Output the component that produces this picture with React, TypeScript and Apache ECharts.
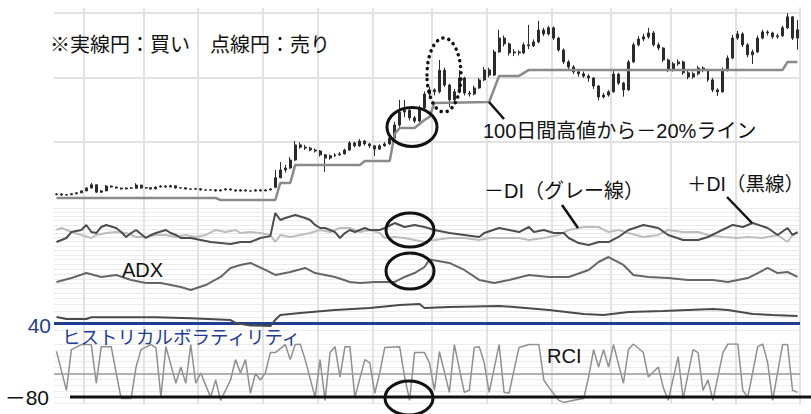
import { useEffect, useRef } from "react";
import * as echarts from "echarts";

// 株価 (open, close, low, high) — 円
const candles: number[][] = [
  [180, 187, 165, 200], [187, 171, 160, 195], [171, 175, 160, 185], [175, 190, 170, 200], [190, 205, 185, 215],
  [205, 235, 200, 245], [235, 280, 230, 290], [280, 330, 275, 360], [330, 215, 205, 330], [215, 235, 205, 250],
  [235, 310, 230, 325], [310, 295, 285, 320], [295, 280, 270, 300], [280, 265, 255, 285], [265, 280, 260, 290],
  [280, 275, 265, 295], [275, 325, 270, 355], [325, 280, 270, 330], [280, 285, 270, 295], [285, 265, 255, 290],
  [265, 295, 260, 305], [295, 310, 290, 325], [310, 295, 285, 320], [295, 315, 290, 330], [315, 280, 270, 320],
  [280, 285, 270, 295], [285, 265, 255, 290], [265, 262, 250, 275], [262, 268, 255, 280], [268, 250, 240, 275],
  [250, 248, 235, 260], [248, 252, 240, 262], [252, 235, 225, 258], [235, 250, 228, 260], [250, 265, 245, 278],
  [265, 250, 240, 270], [250, 233, 225, 255], [233, 250, 228, 262], [250, 235, 225, 255], [235, 232, 222, 245],
  [232, 250, 228, 262], [250, 235, 225, 258], [235, 250, 230, 262], [250, 265, 245, 275], [290, 440, 280, 560],
  [440, 560, 430, 684], [560, 590, 520, 640], [590, 715, 580, 760], [715, 950, 700, 1011], [950, 915, 890, 990],
  [915, 900, 870, 950], [900, 870, 850, 920], [870, 855, 830, 895], [855, 795, 770, 870], [795, 745, 530, 810],
  [745, 780, 720, 800], [780, 795, 760, 820], [795, 810, 780, 840], [810, 870, 800, 890], [870, 980, 860, 1010],
  [980, 935, 910, 1000], [935, 1010, 920, 1040], [1010, 965, 940, 1025], [965, 935, 900, 980], [935, 885, 780, 950],
  [885, 935, 870, 960], [935, 965, 920, 990], [965, 1055, 950, 1090], [1055, 1260, 1040, 1310], [1260, 1460, 1230, 1650],
  [1460, 1490, 1380, 1648], [1490, 1370, 1330, 1520], [1370, 1320, 1290, 1400], [1320, 1525, 1300, 1560], [1525, 1740, 1500, 1780],
  [1740, 1805, 1700, 1850], [1805, 1775, 1720, 1830], [1775, 2110, 1750, 2270], [2110, 1880, 1850, 2150], [1880, 1650, 1540, 1900],
  [1650, 1775, 1620, 1820], [1775, 1990, 1750, 2115], [1990, 1755, 1720, 2010], [1755, 1740, 1700, 1790], [1740, 1835, 1720, 1870],
  [1835, 1960, 1820, 1990], [1960, 2115, 1940, 2160], [2115, 2035, 2000, 2150], [2035, 2395, 2020, 2430], [2395, 2610, 2380, 2737],
  [2610, 2520, 2480, 2650], [2520, 2380, 2340, 2540], [2380, 2395, 2330, 2440], [2395, 2380, 2340, 2420], [2380, 2505, 2360, 2540],
  [2505, 2490, 2440, 2815], [2490, 2550, 2470, 2590], [2550, 2735, 2530, 2877], [2735, 2675, 2640, 2770], [2675, 2770, 2650, 2800],
  [2770, 2610, 2580, 2790], [2610, 2425, 2400, 2630], [2425, 2240, 2210, 2450], [2240, 2160, 2120, 2270], [2160, 2085, 2050, 2190],
  [2085, 2055, 2010, 2110], [2055, 2020, 1990, 2090], [2020, 1990, 1930, 2050], [1990, 1865, 1820, 2000], [1865, 1695, 1640, 1880],
  [1695, 1725, 1670, 1760], [1725, 1775, 1700, 1800], [1775, 2050, 1760, 2100], [2050, 1910, 1880, 2070], [1910, 1805, 1700, 1930],
  [1805, 2240, 1790, 2270], [2240, 2505, 2220, 2540], [2505, 2595, 2480, 2640], [2595, 2630, 2560, 2680], [2630, 2690, 2600, 2768],
  [2690, 2505, 2480, 2720], [2505, 2455, 2420, 2540], [2455, 2270, 2240, 2470], [2270, 2115, 2080, 2290], [2115, 2210, 2090, 2240],
  [2210, 2240, 2180, 2280], [2240, 2070, 2040, 2260], [2070, 2005, 1970, 2100], [2005, 2055, 1980, 2090], [2055, 2145, 2030, 2180],
  [2145, 2115, 2080, 2170], [2115, 1960, 1930, 2130], [1960, 1805, 1770, 1990], [1805, 1775, 1710, 1830], [1775, 2115, 1760, 2150],
  [2115, 2300, 2090, 2340], [2300, 2610, 2280, 2660], [2610, 2675, 2580, 2720], [2675, 2505, 2470, 2700], [2505, 2350, 2310, 2530],
  [2350, 2395, 2208, 2430], [2395, 2610, 2380, 2650], [2610, 2705, 2590, 2740], [2705, 2690, 2650, 2730], [2690, 2630, 2600, 2710],
  [2630, 2645, 2600, 2680], [2645, 2770, 2630, 2800], [2770, 2940, 2750, 3000], [2940, 2610, 2580, 2950], [2610, 2740, 2430, 2890],
];

// 月初の営業日インデックス（縦グリッド）
const monthStarts = [6, 18, 29, 42, 53, 64, 76, 87, 100, 112, 124, 137];

// 100日間高値から-20%ライン [日, 円]
const trailLine = [
  [0, 124], [32, 124], [33, 93], [44, 93], [45, 358], [47, 358], [48, 638], [61, 638], [62, 700], [67, 700],
  [68, 1120], [69, 1213], [72, 1213], [74, 1337], [75, 1384], [76, 1602], [87, 1617], [89, 2022], [93, 2022],
  [95, 2115], [146, 2115], [147, 2239], [149, 2239],
];

// +DI（黒線）
const plusDI = [
  [0, 9.5], [1, 11.9], [2, 14.3], [3, 21.4], [5, 23.8], [6, 29.8], [7, 21.4], [8, 20.2], [9, 27.4], [10, 29.8],
  [12, 26.2], [13, 21.4], [14, 15.5], [15, 20.2], [16, 23.8], [18, 14.3], [19, 17.9], [20, 20.2], [22, 23.8],
  [23, 20.2], [24, 17.9], [25, 14.3], [27, 14.3], [29, 11.9], [31, 9.5], [33, 8.3], [35, 7.1], [37, 9.5], [39, 9.5],
  [41, 14.3], [43, 16.5], [44, 44.0], [45, 35.7], [46, 38.1], [48, 41.7], [50, 38.1], [51, 35.7], [52, 29.8],
  [53, 26.2], [54, 26.2], [56, 21.4], [57, 14.3], [58, 20.2], [59, 23.8], [60, 21.4], [62, 26.2], [63, 23.8],
  [65, 23.8], [66, 26.2], [68, 32.1], [70, 27.4], [72, 29.8], [74, 27.4], [76, 23.8], [79, 20.2], [82, 17.9],
  [85, 15.5], [86, 20.2], [89, 26.2], [91, 23.8], [93, 21.4], [95, 27.4], [96, 21.4], [98, 23.8], [100, 20.2],
  [102, 20.2], [103, 14.3], [105, 8.3], [107, 6.0], [109, 9.5], [111, 9.5], [113, 15.5], [115, 23.8], [118, 29.8],
  [121, 26.2], [123, 17.9], [126, 11.9], [129, 11.9], [131, 15.5], [133, 21.4], [136, 29.8], [138, 27.4],
  [140, 32.1], [143, 26.2], [145, 17.9], [147, 26.2], [148, 17.9], [149, 21.4],
];

// -DI（グレー線）
const minusDI = [
  [0, 23.8], [1, 26.2], [3, 21.4], [5, 17.9], [7, 14.3], [8, 17.9], [10, 20.2], [12, 21.4], [14, 20.2], [16, 15.5],
  [18, 15.5], [20, 17.9], [22, 17.9], [24, 15.5], [26, 17.9], [28, 15.5], [30, 17.9], [32, 23.8], [34, 21.4],
  [36, 23.8], [37, 20.2], [39, 21.4], [41, 20.2], [43, 17.9], [44, 9.5], [45, 17.9], [47, 15.5], [49, 17.9],
  [51, 20.2], [53, 23.8], [55, 21.4], [57, 26.2], [59, 26.2], [61, 21.4], [63, 23.8], [65, 20.2], [66, 14.3],
  [68, 15.5], [70, 14.3], [72, 11.9], [74, 9.5], [76, 11.9], [79, 14.3], [82, 14.3], [85, 11.9], [87, 14.3],
  [90, 14.3], [93, 14.3], [95, 11.9], [98, 14.3], [101, 17.9], [103, 23.8], [106, 27.4], [109, 27.4], [111, 21.4],
  [113, 23.8], [115, 20.2], [118, 15.5], [121, 17.9], [123, 23.8], [126, 21.4], [129, 21.4], [131, 17.9],
  [134, 15.5], [137, 14.3], [139, 15.5], [142, 14.3], [145, 17.9], [147, 9.5], [148, 17.9], [149, 20.2],
];

// ADX
const adx = [
  [0, 16.7], [3, 20.8], [6, 26.0], [9, 21.9], [12, 24.0], [15, 18.8], [18, 15.6], [21, 15.6], [25, 11.5], [27, 8.3],
  [30, 13.5], [33, 21.9], [35, 31.3], [37, 34.4], [39, 36.5], [42, 29.2], [44, 24.0], [47, 27.1], [50, 31.3],
  [52, 26.0], [56, 21.9], [59, 16.7], [61, 15.6], [64, 16.7], [68, 16.7], [70, 21.9], [72, 26.0], [74, 32.3],
  [75, 40.0], [79, 36.5], [82, 29.2], [85, 18.8], [88, 15.6], [91, 18.8], [95, 24.0], [99, 21.9], [103, 21.9],
  [107, 29.2], [109, 37.5], [111, 42.7], [114, 34.4], [116, 24.0], [119, 21.9], [123, 20.8], [127, 18.8],
  [132, 18.8], [135, 16.7], [139, 20.8], [141, 26.0], [143, 31.3], [145, 26.0], [147, 27.1], [149, 21.9],
];

// ヒストリカルボラティリティ (%)
const hv = [
  [0, 45.2], [2, 43.6], [6, 43.6], [7, 45.0], [20, 45.0], [27, 44.2], [35, 42.8], [36, 40.5], [39, 38.6], [43, 38.1],
  [44, 43.0], [45, 46.7], [49, 48.3], [56, 50.6], [63, 52.2], [69, 54.5], [73, 55.3], [74, 52.2], [79, 53.0],
  [89, 53.8], [92, 53.0], [99, 50.6], [106, 47.5], [110, 46.7], [115, 49.1], [122, 49.8], [132, 51.4], [135, 50.6],
  [140, 47.5], [144, 46.7], [149, 45.9],
];

// RCI
const rci = [
  [0, 75], [2, -57], [3, 81], [5, 98], [7, 98], [8, -33], [9, 91], [11, 91], [12, 2], [13, -85], [15, -85], [16, 22],
  [17, 81], [19, 98], [20, 88], [21, -81], [22, 91], [24, -33], [25, 22], [26, -33], [27, 98], [28, -33], [29, 2],
  [31, -81], [32, -22], [33, -91], [35, -22], [36, 47], [37, 2], [38, 47], [39, -67], [40, 0], [41, -22], [42, 2],
  [43, 71], [44, 71], [46, 98], [47, 47], [48, 98], [49, 100], [50, 47], [52, -81], [53, 47], [54, -91], [55, 71],
  [56, 91], [57, -12], [58, 91], [59, 91], [60, -81], [62, 47], [63, 36], [64, -67], [65, 2], [66, 88], [69, 91],
  [70, -12], [71, -91], [72, 71], [74, 71], [75, 36], [76, -57], [77, 74], [79, -64], [80, 98], [82, -64], [83, -57],
  [84, 88], [85, 91], [86, 36], [87, -64], [89, 98], [90, -64], [91, -67], [92, 12], [93, 88], [95, 98], [97, 98],
  [98, -22], [99, -47], [101, -91], [102, -98], [104, -91], [106, -85], [107, -12], [108, 81], [109, 22], [110, 81],
  [111, 22], [112, 98], [114, -33], [115, 81], [116, 100], [118, 71], [119, -12], [121, 22], [122, -47], [123, -91],
  [125, 57], [126, -85], [128, 81], [129, 71], [130, -57], [131, -22], [132, -91], [134, 71], [135, 100], [137, 100],
  [138, -57], [139, -81], [141, 91], [142, 100], [143, 36], [144, -91], [146, 98], [147, 98], [148, -57], [149, -64],
];

const hvLevel = 40;
const rciLevel = -80;
const rciMid = 0;

const JP = '"Noto Sans CJK JP", sans-serif';
const MIX = '"Liberation Sans", "Noto Sans CJK JP", sans-serif';
const BLUE = "#1f3d93";
const GRID_COLOR = "#e2e2e2";
const FAINT = "#ebebeb";

export default function App() {
  const ref = useRef<HTMLDivElement>(null);

  useEffect(() => {
    document.body.style.margin = "0";
    const chart = echarts.init(ref.current!, null, { renderer: "svg" });
    const days = candles.map((_, i) => `D${i + 1}`);
    const isMonthStart = (i: number) => monthStarts.includes(i);
    const L = 54;
    const R = 11;
    const xMin = -0.5;
    const xMax = candles.length - 0.5;

    const hiddenValueX = (gridIndex: number) => ({
      type: "value", gridIndex, min: xMin, max: xMax, show: false,
    });
    const faintY = (gridIndex: number, min: number, max: number, interval: number) => ({
      type: "value", gridIndex, min, max, interval,
      axisLine: { show: false }, axisTick: { show: false }, axisLabel: { show: false },
      splitLine: { show: true, lineStyle: { color: FAINT, width: 1 } },
    });

    const text = (x: number, y: number, t: string, size: number, color = "#111", font = JP, align = "left") => ({
      type: "text", x, y, z: 100,
      style: { text: t, fontSize: size, fontFamily: font, fill: color, align, verticalAlign: "middle" },
    });
    const ellipse = (cx: number, cy: number, rx: number, ry: number, dotted = false) => ({
      type: "ellipse", z: 100,
      shape: { cx, cy, rx, ry },
      style: dotted
        ? { fill: "none", stroke: "#111", lineWidth: 3.5, lineDash: [0.1, 6], lineCap: "round" }
        : { fill: "none", stroke: "#111", lineWidth: 3 },
    });
    const leader = (x1: number, y1: number, x2: number, y2: number) => ({
      type: "line", z: 100, shape: { x1, y1, x2, y2 }, style: { stroke: "#111", lineWidth: 2.5 },
    });

    const option: any = {
      animation: false,
      backgroundColor: "#ffffff",
      grid: [
        { left: L, right: R, top: 8, height: 396 },
        { left: L, right: R, top: 13, height: 193 },
        { left: L, right: R, top: 208, height: 42 },
        { left: L, right: R, top: 250, height: 48 },
        { left: L, right: R, top: 298, height: 32 },
        { left: L, right: R, top: 344, height: 59 },
        { left: 70, right: 0, top: 344, height: 59 },
      ],
      xAxis: [
        {
          type: "category", gridIndex: 0, data: days, boundaryGap: true,
          axisLine: { show: false },
          axisTick: { show: false, interval: (i: number) => isMonthStart(i) },
          axisLabel: { show: false, interval: (i: number) => isMonthStart(i) },
          splitLine: { show: true, interval: (i: number) => isMonthStart(i), lineStyle: { color: GRID_COLOR, width: 2 } },
        },
        { type: "category", gridIndex: 1, data: days, boundaryGap: true, show: false },
        hiddenValueX(1),
        hiddenValueX(2),
        hiddenValueX(3),
        hiddenValueX(4),
        hiddenValueX(5),
        { type: "value", gridIndex: 6, min: 0, max: 1, show: false },
      ],
      yAxis: [
        {
          type: "value", gridIndex: 0, min: 0, max: 1, position: "right",
          axisLine: { show: true, lineStyle: { color: GRID_COLOR, width: 2 } },
          axisTick: { show: false }, axisLabel: { show: false }, splitLine: { show: false },
        },
        {
          type: "value", gridIndex: 1, min: 0, max: 3000, interval: 1000,
          axisLine: { show: false }, axisTick: { show: false }, axisLabel: { show: false },
          splitLine: { show: true, showMinLine: false, lineStyle: { color: GRID_COLOR, width: 2 } },
        },
        faintY(2, 0, 50, 5),
        faintY(3, 0, 50, 5),
        faintY(4, 35, 60, 5),
        faintY(5, -100, 100, 20),
        { type: "value", gridIndex: 6, min: -100, max: 100, show: false },
      ],
      series: [
        {
          type: "candlestick", name: "株価", xAxisIndex: 1, yAxisIndex: 1, data: candles, barMaxWidth: 3,
          itemStyle: { color: "#2b2b2b", color0: "#2b2b2b", borderColor: "#2b2b2b", borderColor0: "#2b2b2b", borderWidth: 1 },
        },
        {
          type: "line", name: "100日間高値から－20%ライン", xAxisIndex: 2, yAxisIndex: 1, data: trailLine,
          symbol: "none", lineStyle: { color: "#8a8a8a", width: 2.5 },
        },
        {
          type: "line", name: "－DI", xAxisIndex: 3, yAxisIndex: 2, data: minusDI,
          symbol: "none", lineStyle: { color: "#bdbdbd", width: 2 },
        },
        {
          type: "line", name: "＋DI", xAxisIndex: 3, yAxisIndex: 2, data: plusDI,
          symbol: "none", lineStyle: { color: "#4d4d4d", width: 2 },
        },
        {
          type: "line", name: "ADX", xAxisIndex: 4, yAxisIndex: 3, data: adx,
          symbol: "none", lineStyle: { color: "#666666", width: 2 },
        },
        {
          type: "line", name: "HV", xAxisIndex: 5, yAxisIndex: 4, data: hv,
          symbol: "none", lineStyle: { color: "#4a4a4a", width: 2 }, z: 3,
          markLine: {
            silent: true, symbol: "none", label: { show: false }, z: 2,
            lineStyle: { color: BLUE, width: 3, type: "solid" },
            data: [{ yAxis: hvLevel }],
          },
        },
        {
          type: "line", name: "RCI", xAxisIndex: 6, yAxisIndex: 5, data: rci,
          symbol: "none", lineStyle: { color: "#8f8f8f", width: 1.5 },
          markLine: {
            silent: true, symbol: "none", label: { show: false },
            lineStyle: { color: "#9a9a9a", width: 1.5, type: "solid" },
            data: [{ yAxis: rciMid }],
          },
        },
        {
          type: "line", name: "RCI -80", xAxisIndex: 7, yAxisIndex: 6,
          data: [[0, rciLevel], [1, rciLevel]],
          symbol: "none", lineStyle: { color: "#111111", width: 3 }, z: 4,
        },
      ],
      graphic: {
        elements: [
          text(50, 43, "※実線円：買い　点線円：売り", 20),
          text(483, 131, "100日間高値から－20%ライン", 20, "#111", MIX),
          text(484, 191, "－DI（グレー線）", 20, "#111", MIX),
          text(687, 184, "＋DI（黒線）", 19.5, "#111", MIX),
          text(122, 270, "ADX", 20, "#111", MIX),
          text(547, 356, "RCI", 20, "#111", MIX),
          text(51, 325, "40", 21, BLUE, MIX, "right"),
          text(49, 397, "－80", 21, "#111", MIX, "right"),
          text(62, 336, "ヒストリカルボラティリティ", 18.5, BLUE),
          ellipse(412, 127, 25, 19.5),
          ellipse(444, 75, 17, 37, true),
          ellipse(410, 230, 24, 17),
          ellipse(410, 271, 24, 18),
          ellipse(409, 398, 24, 17),
          leader(489, 102, 504, 119),
          leader(562, 205, 578, 228),
          leader(727, 197, 752, 223),
        ],
      },
    };

    chart.setOption(option);
    return () => chart.dispose();
  }, []);

  return <div ref={ref} style={{ width: 811, height: 414 }} />;
}
